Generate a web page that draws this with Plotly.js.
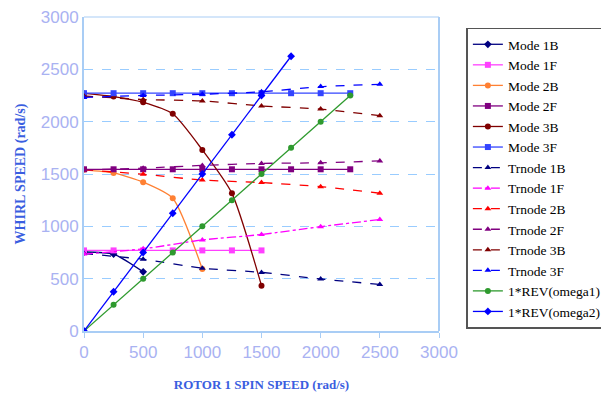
<!DOCTYPE html>
<html><head><meta charset="utf-8">
<script src="https://cdn.plot.ly/plotly-3.0.1.min.js"></script>
<style>html,body{margin:0;padding:0;background:#fff}#c{width:601px;height:393px}</style>
</head><body><div id="c"></div>
<script>
const names = ["Mode 1B","Mode 1F","Mode 2B","Mode 2F","Mode 3B","Mode 3F","Trnode 1B","Trnode 1F","Trnode 2B","Trnode 2F","Trnode 3B","Trnode 3F","1*REV(omega1)","1*REV(omega2)"];

const mode1B_x = [0,250,500];
const mode1B_y = [755,735,565];
const mode1F_x = [0,250,500,750,1000,1250,1500];
const mode1F_y = [770,770,770,770,770,770,770];
const mode2B_x = [0,250,500,750,1000];
const mode2B_y = [1540,1510,1422,1268,592];
const mode2F_x = [0,250,500,750,1000,1250,1500,1750,2000,2250];
const mode2F_y = [1545,1545,1545,1545,1545,1545,1545,1545,1545,1545];
const mode3B_x = [0,250,500,750,1000,1250,1500];
const mode3B_y = [2270,2240,2185,2075,1730,1315,433];
const mode3F_x = [0,250,500,750,1000,1250,1500,1750,2000,2250];
const mode3F_y = [2272,2272,2272,2272,2272,2272,2272,2272,2272,2272];

const trn_x = [0,500,1000,1500,2000,2500];
const trn1B_y = [740,685,600,560,497,445];
const trn1F_y = [735,785,870,922,997,1065];
const trn2B_y = [1540,1498,1442,1418,1379,1316];
const trn2F_y = [1540,1556,1582,1601,1607,1625];
const trn3B_y = [2245,2212,2198,2150,2120,2057];
const trn3F_y = [2232,2250,2262,2285,2335,2357];

const rev1_x = [0,250,500,750,1000,1250,1500,1750,2000,2250];
const rev1_y = [0,250,500,750,1000,1250,1500,1750,2000,2250];
const rev2_x = [0,250,500,750,1000,1250,1500,1750];
const rev2_y = [0,375,750,1125,1500,1875,2250,2625];

function tr(name, x, y, color, dash, sym, shape){
  return {type:'scatter', mode:'lines+markers', name:name, x:x, y:y,
    line:{color:color, width:1.3, dash:dash, shape:shape||'spline', smoothing:0.6},
    marker:{color:color, symbol:sym, size:6}};
}
const data = [
  tr(names[0], mode1B_x, mode1B_y, '#000080','solid','diamond'),
  tr(names[1], mode1F_x, mode1F_y, '#ff40ff','solid','square'),
  tr(names[2], mode2B_x, mode2B_y, '#ff8033','solid','circle'),
  tr(names[3], mode2F_x, mode2F_y, '#800080','solid','square'),
  tr(names[4], mode3B_x, mode3B_y, '#800000','solid','circle'),
  tr(names[5], mode3F_x, mode3F_y, '#3344ff','solid','square'),
  tr(names[6], trn_x, trn1B_y, '#000080','dash','triangle-up'),
  tr(names[7], trn_x, trn1F_y, '#ff00ff','dashdot','triangle-up'),
  tr(names[8], trn_x, trn2B_y, '#ff0000','dash','triangle-up'),
  tr(names[9], trn_x, trn2F_y, '#800080','dash','triangle-up'),
  tr(names[10], trn_x, trn3B_y, '#800000','dash','triangle-up'),
  tr(names[11], trn_x, trn3F_y, '#0000ff','dash','triangle-up'),
  tr(names[12], rev1_x, rev1_y, '#2e9a2e','solid','circle','linear'),
  tr(names[13], rev2_x, rev2_y, '#0000ff','solid','diamond','linear')
];
const tickFont = {family:'Liberation Sans, Arial, sans-serif', size:17, color:'#a9b2f2'};
const layout = {
  width:601, height:393,
  margin:{l:84, r:162, t:17, b:62},
  paper_bgcolor:'#ffffff', plot_bgcolor:'#ffffff',
  showlegend:true,
  legend:{xref:'container', yref:'container', x:0.776, y:0.93, xanchor:'left', yanchor:'top',
    maxheight:380,
    font:{family:'Liberation Serif, Times New Roman, serif', size:13.5, color:'#000'},
    bordercolor:'#555555', borderwidth:1.5, bgcolor:'#ffffff',
    tracegroupgap:0, itemwidth:30},
  xaxis:{range:[0,3000], tickvals:[0,500,1000,1500,2000,2500,3000],
    showgrid:false, zeroline:false, showline:true, linecolor:'#a9cdf5', linewidth:2,
    mirror:false, ticks:'outside', ticklen:5, tickcolor:'#a9cdf5',
    tickfont:tickFont,
    title:{text:'ROTOR 1 SPIN SPEED (rad/s)', standoff:18,
      font:{family:'Liberation Serif, Times New Roman, serif', size:13, color:'#3a5ee0', weight:'bold'}}},
  yaxis:{range:[0,3000], tickvals:[0,500,1000,1500,2000,2500,3000],
    showgrid:true, gridcolor:'#99ccff', griddash:'dash', gridwidth:1,
    zeroline:false, showline:true, linecolor:'#a9cdf5', linewidth:2,
    ticks:'', tickfont:tickFont,
    title:{text:'WHIRL SPEED (rad/s)', standoff:12,
      font:{family:'Liberation Serif, Times New Roman, serif', size:14, color:'#3a5ee0', weight:'bold'}}},
  shapes:[
    {type:'line', xref:'paper', yref:'paper', x0:1, x1:1, y0:0, y1:1, line:{color:'#a9cdf5', width:2}},
    {type:'line', xref:'paper', yref:'paper', x0:0, x1:1, y0:1, y1:1, line:{color:'#a9cdf5', width:1}}
  ]
};
Plotly.newPlot('c', data, layout, {displayModeBar:false, staticPlot:true});
</script></body></html>
